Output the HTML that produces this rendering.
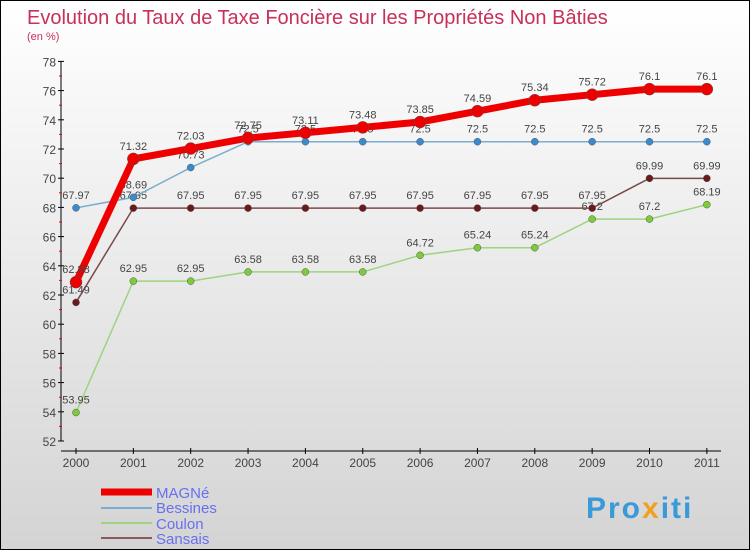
<!DOCTYPE html>
<html><head><meta charset="utf-8"><style>
body{margin:0;width:750px;height:550px;overflow:hidden;font-family:"Liberation Sans",sans-serif}
#wrap{position:relative;width:748px;height:548px;border:1px solid #000;background:linear-gradient(#fff,#d4d4d4)}
</style></head><body>
<div id="wrap">
<svg id="c" width="748" height="548" xmlns="http://www.w3.org/2000/svg">
<text x="26" y="23" font-size="20" fill="#c8305a">Evolution du Taux de Taxe Foncière sur les Propriétés Non Bâties</text>
<text x="26" y="39" font-size="11" fill="#c8305a">(en %)</text>
<g id="axes"></g><g id="series"></g>
<g>
<line x1="100" y1="491" x2="151" y2="491" stroke="#e00" stroke-width="7"/>
<line x1="100" y1="507" x2="151" y2="507" stroke="#7aaed0" stroke-width="2"/>
<line x1="100" y1="522" x2="151" y2="522" stroke="#9fd37f" stroke-width="2"/>
<line x1="100" y1="537" x2="151" y2="537" stroke="#8a5a5a" stroke-width="2"/>
<text x="155" y="497" font-size="15" fill="#6670f0">MAGNé</text>
<text x="155" y="512" font-size="15" fill="#6670f0">Bessines</text>
<text x="155" y="528" font-size="15" fill="#6670f0">Coulon</text>
<text x="155" y="543" font-size="15" fill="#6670f0">Sansais</text>
</g>
<text x="585" y="517" font-size="30" font-weight="bold" letter-spacing="2" fill="#3a9ad9">Pro<tspan fill="#f0a020">x</tspan>iti</text>
</svg></div>
<script>
const years=[2000,2001,2002,2003,2004,2005,2006,2007,2008,2009,2010,2011];
const yTicks=[52,54,56,58,60,62,64,66,68,70,72,74,76,78];
const magne=[62.88,71.32,72.03,72.75,73.11,73.48,73.85,74.59,75.34,75.72,76.1,76.1];
const bessines=[67.97,68.69,70.73,72.5,72.5,72.5,72.5,72.5,72.5,72.5,72.5,72.5];
const coulon=[53.95,62.95,62.95,63.58,63.58,63.58,64.72,65.24,65.24,67.2,67.2,68.19];
const sansais=[61.49,67.95,67.95,67.95,67.95,67.95,67.95,67.95,67.95,67.95,69.99,69.99];
const NS="http://www.w3.org/2000/svg";
const X=i=>75+i*57.35, Y=v=>440-(v-52)*14.6;
function mk(t,a,p){const e=document.createElementNS(NS,t);for(const k in a)e.setAttribute(k,a[k]);p.appendChild(e);return e;}
const ax=document.getElementById('axes'),sg=document.getElementById('series');
const yl=mk('line',{x1:60,y1:Y(78),x2:60,y2:Y(52),stroke:'#000'},ax);


yTicks.forEach(v=>{
 mk('line',{x1:57,y1:Y(v),x2:63,y2:Y(v),stroke:'#000'},ax);
 mk('line',{x1:58,y1:Y(v+1),x2:61,y2:Y(v+1),stroke:v<78?'#e00':'none'},ax);
 const t=mk('text',{x:55,y:Y(v)+5,'font-size':12,'text-anchor':'end',fill:'#444'},ax);t.textContent=v;
 
 
});
const xl=mk('line',{x1:60,y1:450,x2:720,y2:450,stroke:'#000'},ax);


years.forEach((y,i)=>{
 mk('line',{x1:X(i),y1:447,x2:X(i),y2:453,stroke:'#000'},ax);
 const t=mk('text',{x:X(i),y:466,'font-size':12,'text-anchor':'middle',fill:'#444'},ax);t.textContent=y;
 
 
});
function series(d,col,w,r,fill,name){
 const g=mk('g',{},sg);
 
 
 mk('polyline',{points:d.map((v,i)=>X(i)+','+Y(v)).join(' '),fill:'none',stroke:col,'stroke-width':w},g);
 d.forEach((v,i)=>{
  const c=mk('circle',{cx:X(i),cy:Y(v),r:r,fill:fill,stroke:'#555','stroke-width':0.5},g);
  
  
  const t=mk('text',{x:X(i),y:Y(v)-9,'font-size':11,'text-anchor':'middle',fill:'#444'},g);t.textContent=v;
  
  
 });
}
series(coulon,'#9fd37f',1.5,3.5,'#7ccc3a','coulon');
series(sansais,'#7a4a4a',1.5,3.5,'#6a1a1a','sansais');
series(bessines,'#7aaed0',1.5,3.5,'#3a8ad0','bessines');
series(magne,'#e00',7,6,'#e00','magne');
</script>
</body></html>
